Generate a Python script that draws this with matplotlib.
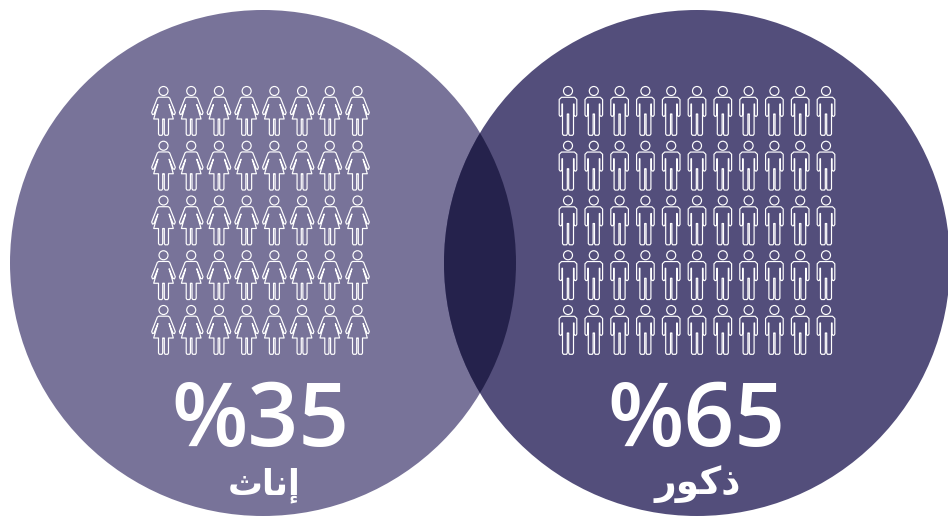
import matplotlib
matplotlib.use('Agg')
import matplotlib.pyplot as plt
import numpy as np
from matplotlib.patches import Circle, PathPatch
from matplotlib.path import Path
from matplotlib.transforms import Affine2D

# values
percent_labels = ['%35', '%65']
# arabic in presentation forms, visual order, since matplotlib does no shaping
group_labels = ['\ufe99\ufe8e\ufee7\ufe87', '\ufead\ufeee\ufedb\ufeab']  # inath, dhukur
icon_cols = [8, 11]
icon_rows = [5, 5]

LEFT_COLOR = '#787399'
RIGHT_COLOR = '#534e7b'
OVERLAP_COLOR = '#25224c'
R = 253
LW = 0.85


def woman_path():
    right = [(0, 6.2), (4.8, 6.2), (6.2, 7.2), (11.8, 21.5), (11, 23.6), (9.6, 23.2), (5.6, 13.5),
             (9.8, 28), (5, 28), (5, 43), (4.2, 44.3), (1.6, 44.3), (0.8, 43), (0.8, 28), (0, 28)]
    left = [(-x, y) for x, y in reversed(right[:-1])]
    return Path(right + left + [(0, 6.2)], closed=False)


def man_path():
    right = [(0, 6.3), (6.5, 6.3), (8.8, 8.5), (8.8, 24), (7.9, 25.3), (6.9, 25.3), (6, 24), (6, 13),
             (5.5, 13), (5.5, 43), (4.5, 44.3), (1.5, 44.3), (0.7, 43), (0.7, 23), (0, 23)]
    left = [(-x, y) for x, y in reversed(right[:-1])]
    return Path(right + left + [(0, 6.3)], closed=False)


def draw_icons(ax, path, n_cols, n_rows, x0, x1):
    xs = np.linspace(x0, x1, n_cols)
    ys = np.linspace(91, 310, n_rows)
    for y in ys:
        for x in xs:
            ax.add_patch(Circle((x, y), 4.5, fill=False, ec='white', lw=LW))
            ax.add_patch(PathPatch(path, transform=Affine2D().translate(x, y) + ax.transData,
                                   fc='none', ec='white', lw=LW, joinstyle='round'))


fig = plt.figure(figsize=(9.48, 5.16), dpi=100)
ax = fig.add_axes([0, 0, 1, 1])
ax.set_xlim(0, 948)
ax.set_ylim(516, 0)
ax.axis('off')

left_c = Circle((263, 263), R, fc=LEFT_COLOR, ec='none')
right_c = Circle((697, 263), R, fc=RIGHT_COLOR, ec='none', clip_on=False)
ax.add_patch(left_c)
ax.add_patch(right_c)
overlap = Circle((263, 263), R, fc=OVERLAP_COLOR, ec='none')
ax.add_patch(overlap)
overlap.set_clip_path(Circle((697, 263), R, transform=ax.transData))

draw_icons(ax, woman_path(), icon_cols[0], icon_rows[0], 163.5, 357.5)
draw_icons(ax, man_path(), icon_cols[1], icon_rows[1], 568, 826)

for x, x_lab, size, pct, lab in zip([260, 696.5], [264.5, 698], [25, 27], percent_labels, group_labels):
    ax.text(x, 446, pct, color='white', fontsize=64, fontweight='semibold', family='Open Sans',
            ha='center', va='baseline')
    ax.text(x_lab, 494, lab, color='white', fontsize=size, fontweight='bold',
            family='DejaVu Sans', ha='center', va='baseline')

fig.savefig('out.png', dpi=100)
